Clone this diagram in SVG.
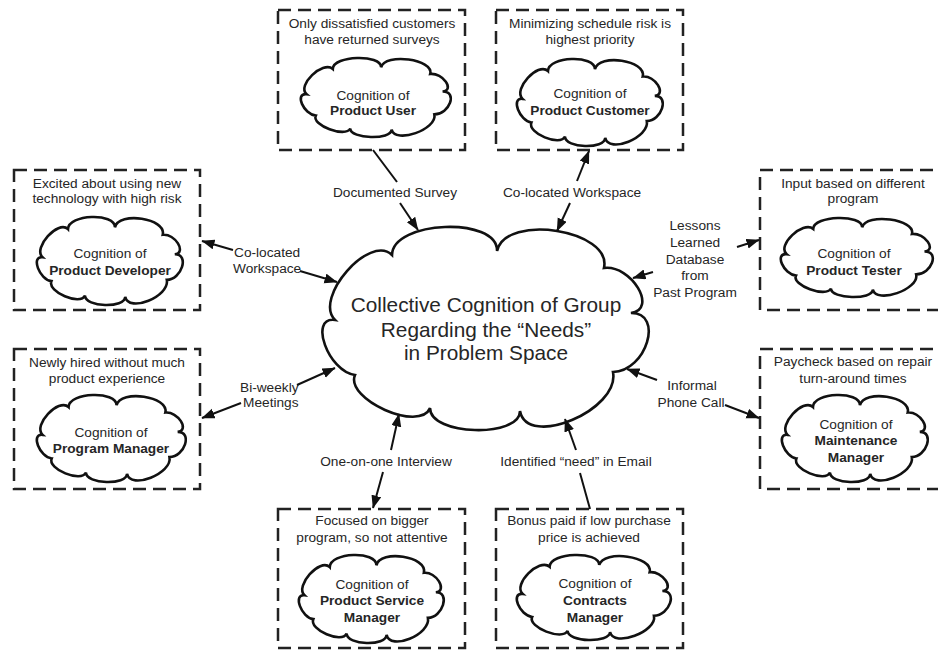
<svg xmlns="http://www.w3.org/2000/svg" xmlns:xlink="http://www.w3.org/1999/xlink" width="938" height="650" viewBox="0 0 938 650">
<style>
.box{fill:none;stroke:#222;stroke-width:2.5;stroke-dasharray:13 7}
.cl{fill:#fff;stroke:#111;stroke-width:2.6;vector-effect:non-scaling-stroke}
.big .cl{stroke-width:3}
text{font-family:"Liberation Sans",Arial,sans-serif;font-size:13.7px;fill:#262626;text-anchor:middle}
.b{font-weight:bold}
.ctr{font-size:20.8px}
.st{text-anchor:start}
.con line{stroke:#111;stroke-width:2}
</style>
<defs>
<marker id="ah" markerUnits="userSpaceOnUse" markerWidth="14" markerHeight="11" refX="12.5" refY="5" orient="auto">
<path d="M0,0 L13,5 L0,10 z" fill="#111"/>
</marker>
<symbol id="cloud" viewBox="0 0 160 100" preserveAspectRatio="none" overflow="visible">
<path class="cl" d="M33.3,13.8 C33.6,-3.3 85.8,-5.3 85.5,11.8 C89.8,-6.9 142.9,1.5 138.6,20.2 C152.2,18.5 165.6,40.7 152,42.4 C168.6,42.1 159.7,71.1 143.1,71.4 C146.7,90.2 100.5,109.4 96.9,90.6 C96.8,104.1 52.1,102.7 52.2,89.2 C47.2,101.3 9.9,85 14.9,72.9 C1.6,71.2 -8.3,44.1 5,45.8 C-6,35 22.3,3 33.3,13.8 Z"/>
</symbol>
</defs>
<rect width="938" height="650" fill="#fff"/>

<g id="center" class="big">
<use xlink:href="#cloud" href="#cloud" x="325" y="227" width="322" height="203"/>
<text class="ctr" x="486" y="312">Collective Cognition of Group</text>
<text class="ctr" x="486" y="337">Regarding the “Needs”</text>
<text class="ctr" x="486" y="360">in Problem Space</text>
</g>

<g id="product-user">
<rect class="box" x="278" y="10" width="187" height="140"/>
<text x="372" y="28">Only dissatisfied customers</text>
<text x="372" y="44">have returned surveys</text>
<use href="#cloud" x="302" y="58" width="148" height="79"/>
<text x="373" y="100">Cognition of</text>
<text class="b" x="373" y="115">Product User</text>
</g>

<g id="product-customer">
<rect class="box" x="496" y="10" width="187" height="140"/>
<text x="590" y="28">Minimizing schedule risk is</text>
<text x="590" y="44">highest priority</text>
<use href="#cloud" x="518" y="59" width="144" height="87"/>
<text x="590" y="98">Cognition of</text>
<text class="b" x="590" y="115">Product Customer</text>
</g>

<g id="product-developer">
<rect class="box" x="14" y="170" width="186" height="140"/>
<text x="107" y="188">Excited about using new</text>
<text x="107" y="203">technology with high risk</text>
<use href="#cloud" x="38" y="217" width="144" height="88"/>
<text x="110" y="258">Cognition of</text>
<text class="b" x="110" y="275">Product Developer</text>
</g>

<g id="product-tester">
<rect class="box" x="760" y="170" width="190" height="140"/>
<text x="853" y="188">Input based on different</text>
<text x="853" y="203">program</text>
<use href="#cloud" x="782" y="218" width="150" height="79"/>
<text x="854" y="258">Cognition of</text>
<text class="b" x="854" y="275">Product Tester</text>
</g>

<g id="program-manager">
<rect class="box" x="14" y="349" width="186" height="140"/>
<text x="107" y="367">Newly hired without much</text>
<text x="107" y="383">product experience</text>
<use href="#cloud" x="38" y="395" width="147" height="87"/>
<text x="111" y="437">Cognition of</text>
<text class="b" x="111" y="453">Program Manager</text>
</g>

<g id="maintenance-manager">
<rect class="box" x="760" y="349" width="190" height="140"/>
<text x="853" y="366">Paycheck based on repair</text>
<text x="853" y="383">turn-around times</text>
<use href="#cloud" x="783" y="395" width="144" height="87"/>
<text x="856" y="429">Cognition of</text>
<text class="b" x="856" y="445">Maintenance</text>
<text class="b" x="856" y="462">Manager</text>
</g>

<g id="product-service-manager">
<rect class="box" x="278" y="509" width="187" height="139"/>
<text x="372" y="525">Focused on bigger</text>
<text x="372" y="542">program, so not attentive</text>
<use href="#cloud" x="300" y="555" width="143" height="88"/>
<text x="372" y="589">Cognition of</text>
<text class="b" x="372" y="605">Product Service</text>
<text class="b" x="372" y="622">Manager</text>
</g>

<g id="contracts-manager">
<rect class="box" x="496" y="509" width="187" height="139"/>
<text x="589" y="525">Bonus paid if low purchase</text>
<text x="589" y="542">price is achieved</text>
<use href="#cloud" x="518" y="555" width="152" height="85"/>
<text x="595" y="588">Cognition of</text>
<text class="b" x="595" y="605">Contracts</text>
<text class="b" x="595" y="622">Manager</text>
</g>

<g id="connectors" class="con">
<line x1="373" y1="150" x2="397" y2="182"/>
<line x1="400" y1="203" x2="418" y2="230" marker-end="url(#ah)"/>
<text x="395" y="197">Documented Survey</text>

<line x1="577" y1="181" x2="589" y2="151" marker-end="url(#ah)"/>
<line x1="570" y1="203" x2="557" y2="231" marker-end="url(#ah)"/>
<text x="572" y="197">Co-located Workspace</text>

<line x1="233" y1="250" x2="202" y2="241" marker-end="url(#ah)"/>
<line x1="300" y1="271" x2="337" y2="282" marker-end="url(#ah)"/>
<text class="st" x="234" y="257">Co-located</text>
<text class="st" x="233" y="273">Workspace</text>

<line x1="297" y1="385" x2="335" y2="368" marker-end="url(#ah)"/>
<line x1="241" y1="403" x2="202" y2="418" marker-end="url(#ah)"/>
<text class="st" x="240" y="392">Bi-weekly</text>
<text class="st" x="243" y="407">Meetings</text>

<line x1="391" y1="450" x2="399" y2="414" marker-end="url(#ah)"/>
<line x1="383" y1="472" x2="373" y2="508" marker-end="url(#ah)"/>
<text x="386" y="466">One-on-one Interview</text>

<line x1="590" y1="509" x2="580" y2="473"/>
<line x1="576" y1="450" x2="565" y2="419" marker-end="url(#ah)"/>
<text x="576" y="466">Identified “need” in Email</text>

<line x1="737" y1="247" x2="759" y2="240" marker-end="url(#ah)"/>
<line x1="653" y1="272" x2="633" y2="278" marker-end="url(#ah)"/>
<text x="695" y="230">Lessons</text>
<text x="695" y="247">Learned</text>
<text x="695" y="264">Database</text>
<text x="695" y="280">from</text>
<text x="695" y="297">Past Program</text>

<line x1="657" y1="380" x2="627" y2="369" marker-end="url(#ah)"/>
<line x1="725" y1="405" x2="759" y2="418" marker-end="url(#ah)"/>
<text x="692" y="390">Informal</text>
<text x="691" y="407">Phone Call</text>
</g>
</svg>
